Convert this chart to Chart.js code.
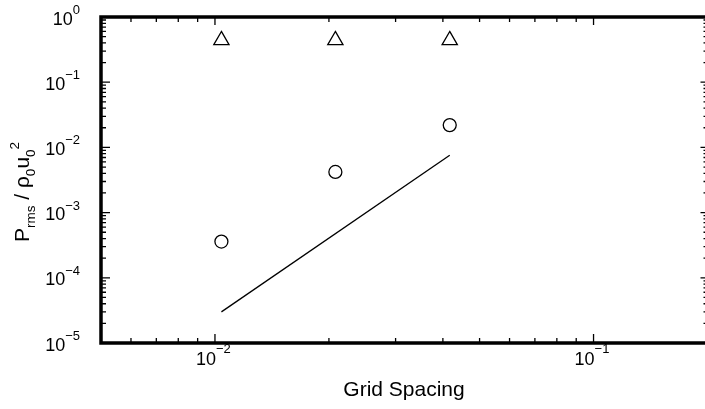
<!DOCTYPE html>
<html>
<head>
<meta charset="utf-8">
<script src="https://cdn.jsdelivr.net/npm/chart.js@4.4.1/dist/chart.umd.min.js"></script>
<style>
  html, body { margin: 0; padding: 0; background: #fff; overflow: hidden; width: 705px; height: 409px; }
  #wrap { width: 705px; height: 409px; overflow: hidden; position: relative; }
  #c { position: absolute; left: 0; top: 0; }
</style>
</head>
<body>
<div id="wrap"><canvas id="c" width="712" height="409" style="width:712px;height:409px"></canvas></div>
<script>
// ---- data ----
const gridSpacing = [0.0104, 0.0208, 0.0417];
const triangleValues = [0.44, 0.44, 0.44];
const circleValues = [3.6e-4, 4.2e-3, 0.022];
const lineX = [0.0104, 0.0417];
const lineY = [3.0e-5, 7.6e-3];

const xTickValues = [0.01, 0.1];
const xTickExponents = ["\u22122", "\u22121"];
const yTickValues = [1, 0.1, 0.01, 0.001, 0.0001, 0.00001];
const yTickExponents = ["0", "\u22121", "\u22122", "\u22123", "\u22124", "\u22125"];

const xTitle = "Grid Spacing";

const FONT = '"Liberation Sans", Arial, Helvetica, sans-serif';

const axesPlugin = {
  id: 'axesPlugin',
  afterDraw(chart) {
    const ctx = chart.ctx;
    const a = chart.chartArea;
    const xs = chart.scales.x, ys = chart.scales.y;
    ctx.save();
    ctx.strokeStyle = '#000';
    ctx.fillStyle = '#000';

    const xMinor = [], yMinor = [];
    for (let e = -3; e <= 0; e++) for (let m = 2; m <= 9; m++) {
      const v = m * Math.pow(10, e);
      if (v > xs.min && v < xs.max) xMinor.push(v);
    }
    for (let e = -5; e <= 0; e++) for (let m = 2; m <= 9; m++) {
      const v = m * Math.pow(10, e);
      if (v > ys.min && v < ys.max) yMinor.push(v);
    }

    ctx.lineWidth = 1.3;
    ctx.beginPath();
    xMinor.forEach(v => {
      const px = xs.getPixelForValue(v);
      ctx.moveTo(px, a.bottom); ctx.lineTo(px, a.bottom - 5);
      ctx.moveTo(px, a.top); ctx.lineTo(px, a.top + 5);
    });
    xTickValues.forEach(v => {
      const px = xs.getPixelForValue(v);
      ctx.moveTo(px, a.bottom); ctx.lineTo(px, a.bottom - 9);
      ctx.moveTo(px, a.top); ctx.lineTo(px, a.top + 8);
    });
    yMinor.forEach(v => {
      const py = ys.getPixelForValue(v);
      ctx.moveTo(a.left, py); ctx.lineTo(a.left + 5, py);
      ctx.moveTo(a.right, py); ctx.lineTo(a.right - 4, py);
    });
    yTickValues.forEach(v => {
      const py = ys.getPixelForValue(v);
      ctx.moveTo(a.left, py); ctx.lineTo(a.left + 9, py);
      ctx.moveTo(a.right, py); ctx.lineTo(a.right - 7, py);
    });
    ctx.stroke();

    ctx.lineWidth = 3.5;
    ctx.beginPath();
    ctx.moveTo(a.left, a.bottom); ctx.lineTo(a.right + 3, a.bottom);
    ctx.moveTo(a.left, a.top); ctx.lineTo(a.right + 3, a.top);
    ctx.moveTo(a.left, a.top - 1.75); ctx.lineTo(a.left, a.bottom + 1.75);
    ctx.moveTo(a.right, a.top - 1.75); ctx.lineTo(a.right, a.bottom + 1.75);
    ctx.stroke();

    ctx.textBaseline = 'alphabetic';
    const big = '18px ' + FONT, small = '13px ' + FONT;
    xTickValues.forEach((v, i) => {
      const px = xs.getPixelForValue(v);
      ctx.font = big; ctx.textAlign = 'right';
      ctx.fillText('10', px + 1, a.bottom + 22);
      ctx.font = small; ctx.textAlign = 'left';
      ctx.fillText(xTickExponents[i], px + 1, a.bottom + 10);
    });
    yTickValues.forEach((v, i) => {
      const py = ys.getPixelForValue(v);
      ctx.font = small; ctx.textAlign = 'right';
      const ew = ctx.measureText(yTickExponents[i]).width;
      const right = 80;
      ctx.fillText(yTickExponents[i], right, py - 3);
      ctx.font = big;
      ctx.fillText('10', right - ew, py + 7.5);
    });

    ctx.font = '21px ' + FONT;
    ctx.textAlign = 'center';
    ctx.fillText(xTitle, 404, 396);

    const F = '21px ' + FONT, S = '13.5px ' + FONT;
    const parts = [
      { t: 'P', f: F, dy: 0 },
      { t: 'rms', f: S, dy: 6 },
      { t: ' / ', f: F, dy: 0 },
      { t: '\u03C1', f: F, dy: 0 },
      { t: '0', f: S, dy: 6 },
      { t: 'u', f: F, dy: 0 },
      { t: '0', f: S, dy: 6 },
      { t: '2', f: S, dy: -10 }
    ];
    let total = 0;
    parts.forEach(p => { ctx.font = p.f; p.w = ctx.measureText(p.t).width; total += p.w; });
    ctx.translate(29, 192);
    ctx.rotate(-Math.PI / 2);
    ctx.textAlign = 'left';
    let x = -total / 2;
    parts.forEach(p => { ctx.font = p.f; ctx.fillText(p.t, x, p.dy); x += p.w; });
    ctx.restore();
  }
};

new Chart(document.getElementById('c'), {
  type: 'scatter',
  data: {
    datasets: [
      {
        label: 'triangles',
        data: gridSpacing.map((x, i) => ({ x, y: triangleValues[i] })),
        pointStyle: 'triangle',
        pointRadius: 8.8,
        pointHoverRadius: 8.8,
        borderColor: '#000',
        backgroundColor: 'rgba(0,0,0,0)',
        borderWidth: 1.3
      },
      {
        label: 'circles',
        data: gridSpacing.map((x, i) => ({ x, y: circleValues[i] })),
        pointStyle: 'circle',
        pointRadius: 6.5,
        pointHoverRadius: 6.5,
        borderColor: '#000',
        backgroundColor: 'rgba(0,0,0,0)',
        borderWidth: 1.3
      },
      {
        label: 'slope',
        type: 'line',
        data: lineX.map((x, i) => ({ x, y: lineY[i] })),
        showLine: true,
        pointRadius: 0,
        borderColor: '#000',
        borderWidth: 1.3,
        fill: false
      }
    ]
  },
  options: {
    responsive: false,
    animation: false,
    devicePixelRatio: 1,
    layout: { autoPadding: false, padding: { left: 101, right: 4.5, top: 17, bottom: 66 } },
    plugins: { legend: { display: false }, tooltip: { enabled: false } },
    events: [],
    scales: {
      x: { type: 'logarithmic', min: 0.005, max: 0.2, display: false },
      y: { type: 'logarithmic', min: 1e-5, max: 1, display: false }
    }
  },
  plugins: [axesPlugin]
});
</script>
</body>
</html>
